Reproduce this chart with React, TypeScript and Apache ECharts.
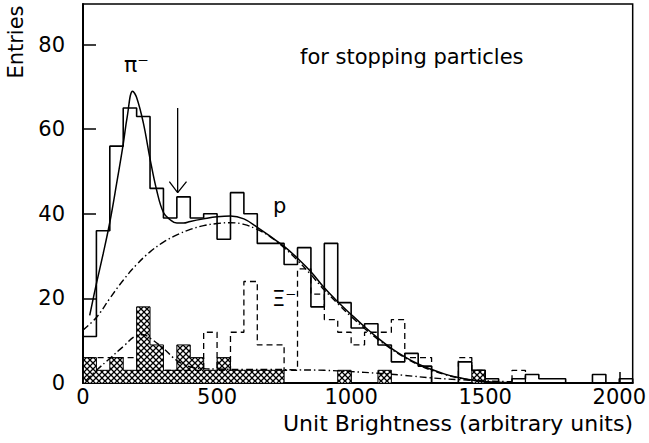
import React, { useEffect, useRef } from "react";
import * as echarts from "echarts";

// ---- data ----
const BIN_WIDTH = 50; // arbitrary units per bin, bins start at 0
const X_MAX = 2050;
const Y_MAX = 89.6;
const xTickValues = [0, 500, 1000, 1500, 2000];
const yTickValues = [0, 20, 40, 60, 80];

// all stopping-particle entries (solid histogram), 41 bins of 50
const totalCounts = [
  11, 36, 56, 65, 63, 46, 39, 44, 39, 40,
  34, 45, 40, 33, 33, 28, 32, 18, 33, 19,
  13, 14, 9, 5, 7, 4, 0, 0, 5, 3,
  1, 0, 1, 2, 1, 1, 0, 0, 2, 0, 1,
];

// Xi- expectation (dashed histogram)
const xiCounts = [
  6, 6, 6, 6, 3, 3, 3, 3, 3, 12,
  3, 12, 24, 9, 9, 3, 27, 21, 15, 12,
  9, 12, 12, 15, 6, 6, 0, 0, 6, 3,
  0, 0, 3, 0, 0, 0, 0, 0, 0, 0, 0,
];

// cross-hatched histogram
const hatchedCounts = [
  6, 3, 6, 3, 18, 9, 3, 9, 6, 3,
  6, 3, 3, 3, 3, 0, 0, 0, 0, 3,
  0, 0, 3, 0, 0, 0, 0, 0, 0, 3,
  0, 0, 0, 0, 0, 0, 0, 0, 0, 0, 0,
];

// total fit (solid curve)
const totalFit: [number, number][] = [
  [25, 16], [50, 23.5], [75, 30.5], [100, 38], [125, 47], [150, 56.5],
  [165, 63], [185, 69], [200, 67.5], [225, 61.5], [250, 53], [275, 45.5],
  [300, 40.3], [325, 38.6], [350, 37.8], [375, 37.8], [400, 38.2], [450, 38.8],
  [500, 39.3], [550, 39.5], [600, 38.8], [650, 36.8], [700, 34.6], [750, 32.3],
  [800, 29.5], [850, 26.3], [900, 22.5], [950, 19.2], [1000, 16.2], [1050, 13.3],
  [1100, 10.6], [1150, 8.2], [1200, 6.2], [1250, 4.5], [1300, 3.2], [1350, 2.1],
  [1400, 1.3], [1450, 0.7], [1500, 0.35], [1550, 0.15], [1600, 0.05],
];

// proton component (upper dash-dot curve)
const protonFit: [number, number][] = [
  [0, 12.5], [50, 15.5], [100, 20], [150, 24.3], [200, 28], [250, 31],
  [300, 33.3], [350, 35], [400, 36.3], [450, 37.2], [500, 37.7], [550, 37.9],
  [600, 37.5], [650, 36.3], [700, 34.5], [750, 32], [800, 29], [850, 25.6],
  [900, 22], [950, 18.8], [1000, 15.7], [1050, 12.9], [1100, 10.3], [1150, 8],
  [1200, 6], [1250, 4.3], [1300, 3], [1350, 2], [1400, 1.2], [1450, 0.7],
  [1500, 0.3], [1550, 0.1],
];

// low component (lower dash-dot curve)
const lowFit: [number, number][] = [
  [10, 0.5], [25, 1.5], [50, 3], [100, 5.8], [150, 8.6], [200, 11.2],
  [225, 11.4], [250, 10.6], [300, 8.2], [350, 5.3], [400, 3.8], [450, 3.4],
  [500, 3.3], [600, 3.2], [700, 3.2], [800, 3.1], [900, 3.0], [1000, 2.7],
  [1100, 2.3], [1200, 1.8], [1300, 1.2], [1400, 0.8], [1500, 0.5], [1600, 0.3],
];

// arrow annotation (data units)
const arrowShaft: [number, number][] = [[353, 65], [353, 45]];
const arrowHead: [number, number][] = [[322, 47.6], [353, 45], [386, 47.6]];

const FONT = "DejaVu Sans";

function stepPoints(counts: number[]): [number, number][] {
  const pts: [number, number][] = [[0, 0]];
  counts.forEach((v, i) => {
    pts.push([i * BIN_WIDTH, v]);
    pts.push([(i + 1) * BIN_WIDTH, v]);
  });
  pts.push([counts.length * BIN_WIDTH, 0]);
  return pts;
}

function makeHatch(): HTMLCanvasElement {
  const s = 6;
  const c = document.createElement("canvas");
  c.width = s;
  c.height = s;
  const ctx = c.getContext("2d")!;
  ctx.fillStyle = "#fff";
  ctx.fillRect(0, 0, s, s);
  ctx.strokeStyle = "#000";
  ctx.lineWidth = 1.3;
  ctx.beginPath();
  ctx.moveTo(-1, -1);
  ctx.lineTo(s + 1, s + 1);
  ctx.moveTo(s + 1, -1);
  ctx.lineTo(-1, s + 1);
  ctx.stroke();
  return c;
}

function txt(text: string, x: number, y: number, size: number, align: string, vAlign: string, extra: any = {}) {
  return {
    type: "text",
    x,
    y,
    ...extra,
    style: {
      text,
      fontSize: size,
      fontFamily: FONT,
      fontWeight: "normal",
      lineHeight: size,
      fill: "#000",
      align,
      textAlign: align,
      verticalAlign: vAlign,
      textVerticalAlign: vAlign,
    },
  };
}

export default function App() {
  const ref = useRef<HTMLDivElement>(null);
  useEffect(() => {
    if (!ref.current) return;
    const chart = echarts.init(ref.current, undefined, { renderer: "svg" });
    const hatch = makeHatch();
    const dashDot = [7, 3, 1.5, 3];
    const option: any = {
      animation: false,
      backgroundColor: "#fff",
      grid: {
        left: 83,
        right: 15,
        top: 4,
        bottom: 60,
        show: true,
        borderColor: "#000",
        borderWidth: 1.5,
        backgroundColor: "transparent",
      },
      xAxis: {
        type: "value",
        min: 0,
        max: X_MAX,
        interval: 500,
        axisLine: { lineStyle: { color: "#000", width: 2 } },
        axisTick: { inside: true, length: 11, lineStyle: { color: "#000", width: 1.5 } },
        splitLine: { show: false },
        axisLabel: {
          fontSize: 21,
          lineHeight: 17,
          fontFamily: FONT,
          color: "#000",
          margin: 5,
          showMaxLabel: false,
          formatter: (v: number) => (xTickValues.includes(v) ? String(v) : ""),
        },
      },
      yAxis: {
        type: "value",
        min: 0,
        max: Y_MAX,
        interval: 20,
        axisLine: { show: true, lineStyle: { color: "#000", width: 2 } },
        axisTick: { show: true, inside: true, length: 13, lineStyle: { color: "#000", width: 1.5 } },
        splitLine: { show: false },
        axisLabel: {
          fontSize: 21,
          fontFamily: FONT,
          color: "#000",
          margin: 18,
          showMaxLabel: false,
          formatter: (v: number) => (yTickValues.includes(v) ? String(v) : ""),
        },
      },
      series: [
        {
          type: "line",
          data: stepPoints(hatchedCounts),
          symbol: "none",
          lineStyle: { color: "#000", width: 1 },
          areaStyle: { color: { image: hatch, repeat: "repeat", imageWidth: 6, imageHeight: 6 }, opacity: 1 },
          z: 2,
        },
        {
          type: "line",
          data: stepPoints(xiCounts),
          symbol: "none",
          lineStyle: { color: "#000", width: 1.3, type: [6, 4] },
          z: 3,
        },
        {
          type: "line",
          data: stepPoints(totalCounts),
          symbol: "none",
          lineStyle: { color: "#000", width: 1.6 },
          z: 4,
        },
        {
          type: "line",
          data: protonFit,
          symbol: "none",
          smooth: 0.4,
          lineStyle: { color: "#000", width: 1.4, type: dashDot },
          z: 5,
        },
        {
          type: "line",
          data: lowFit,
          symbol: "none",
          smooth: 0.4,
          lineStyle: { color: "#000", width: 1.4, type: dashDot },
          z: 5,
        },
        {
          type: "line",
          data: totalFit,
          symbol: "none",
          smooth: 0.4,
          lineStyle: { color: "#000", width: 1.5 },
          z: 6,
        },
        {
          type: "line",
          data: arrowShaft,
          symbol: "none",
          lineStyle: { color: "#000", width: 1.3 },
          z: 6,
        },
        {
          type: "line",
          data: arrowHead,
          symbol: "none",
          lineStyle: { color: "#000", width: 1.3 },
          z: 6,
        },
      ],
      graphic: [
        txt("Entries", 16, 42, 21, "center", "middle", { rotation: Math.PI / 2 }),
        txt("for stopping particles", 300, 57, 21, "left", "middle"),
        txt("π⁻", 124, 64, 22, "left", "middle"),
        txt("p", 273, 206, 21, "left", "middle"),
        txt("Ξ⁻", 272, 299, 21, "left", "middle"),
        txt("Unit Brightness (arbitrary units)", 633, 423, 22, "right", "middle"),
      ],
    };
    chart.setOption(option);
    return () => chart.dispose();
  }, []);
  return (
    <div
      ref={ref}
      style={{ position: "fixed", left: 0, top: 0, width: 649, height: 443, background: "#fff" }}
    />
  );
}
